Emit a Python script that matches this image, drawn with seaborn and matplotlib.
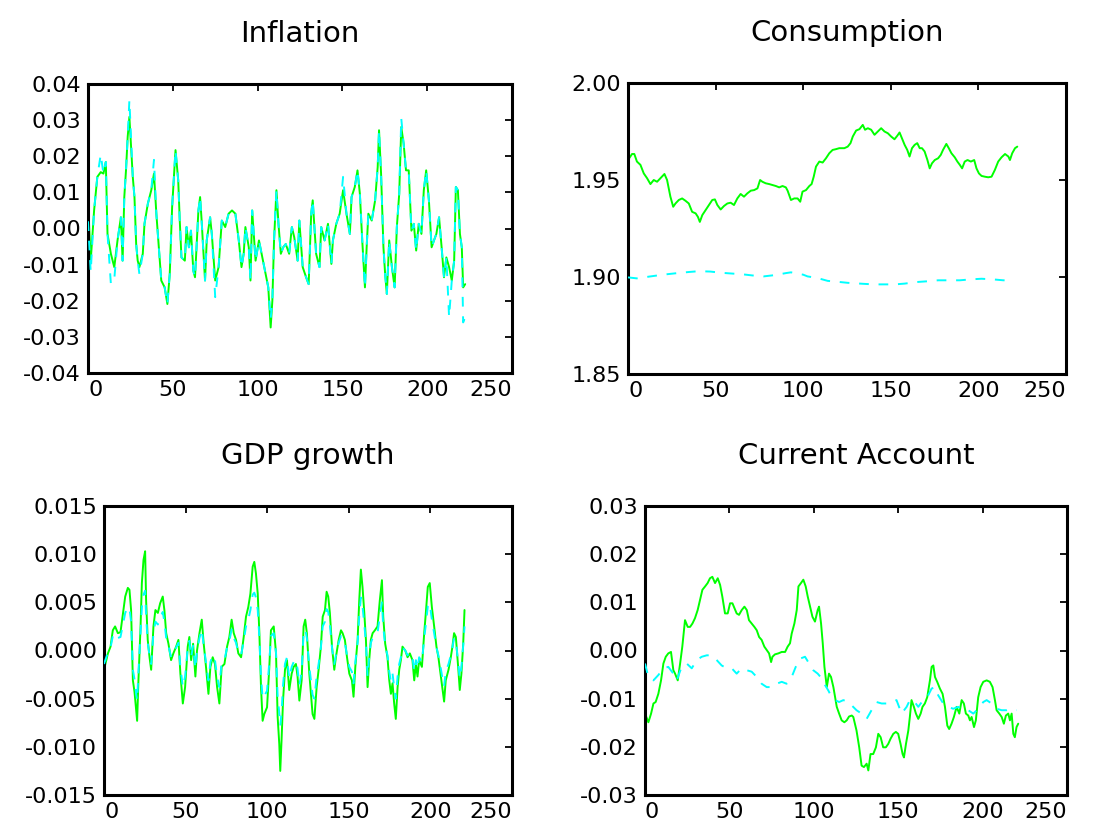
import numpy as np
import pandas as pd
import matplotlib
matplotlib.use("Agg")
import matplotlib.pyplot as plt
import seaborn as sns

# ---------------- data ----------------
# Inflation
infl_x = [0, 1.6, 3.6, 5.5, 7.5, 9.1, 10.5, 11.5, 13.5, 15.5, 17.4, 19.4, 20.4, 21.4, 22.4, 23.4, 24.4, 26.4, 27.4, 28.4,
          29.3, 30.3, 32.3, 33.3, 35.3, 37.3, 38.9, 40.3, 41.3, 43.2, 45.2, 46.8, 48.2, 49.6, 50.8, 51.6, 53.2, 54.1, 55.1, 57.1,
          58.1, 59.5, 60.7, 62.1, 63.1, 65.1, 66.1, 67.0, 69.0, 70.0, 72.0, 73.0, 75.0, 77.0, 78.9, 80.9, 82.9, 84.9, 86.9, 88.9,
          90.5, 91.8, 92.8, 94.8, 95.8, 96.8, 98.8, 100.8, 102.8, 104.7, 106.3, 107.7, 108.7, 109.7, 111.1, 112.3, 113.7, 115.1, 116.6, 118.6,
          120.2, 121.6, 123.6, 124.6, 126.6, 128.6, 130.1,
          131.6, 132.5, 133.5, 134.5, 136.5, 137.5, 139.5, 141.5, 143.5, 144.4, 146.4, 148.4, 150.4, 152.4, 154.4, 155.4, 157.3, 158.9, 160.3, 161.7,
          163.3, 164.3, 165.3, 167.3, 169.3, 170.8, 171.6, 172.8, 174.2, 175.2, 176.2, 177.6, 179.2, 180.8, 182.1, 183.5, 184.7, 186.1, 187.5, 189.1,
          190.7, 192.1, 193.5, 195.0, 196.6, 198.0, 199.4, 201.0, 202.6, 204.0, 205.4, 207.0, 208.5, 209.9, 211.3, 212.9, 214.5, 215.9, 216.9, 218.1,
          219.3, 220.4, 221.2, 222.4]
infl_green = [0.0078, -0.0089, 0.005, 0.0143, 0.0156, 0.0152, 0.0184, -0.0015, -0.007, -0.0107, -0.0033, 0.0031, -0.0089, 0.0087, 0.0161, 0.0254, 0.0309, 0.0143, 0.0087, -0.0043,
              -0.0089, -0.0107, -0.007, 0.0013, 0.0069, 0.0106, 0.0152, 0.0041, -0.0024, -0.0144, -0.0163, -0.0209, -0.0126, 0.0059, 0.0152, 0.0217, 0.0133, 0.0022, -0.008, -0.0089,
              0.0004, -0.0052, -0.0006, -0.0117, -0.0135, 0.005, 0.0087, 0.0022, -0.0144, -0.0033, 0.0031, -0.0015, -0.0144, -0.0107, 0.0022, 0.0004, 0.0041, 0.005, 0.0041, -0.0033,
              -0.0107, -0.007, 0.0004, -0.0052, -0.0144, 0.005, -0.0089, -0.0033, -0.008, -0.0126, -0.0163, -0.0274, -0.02, -0.0033, 0.0106, 0.0013, -0.007, -0.0052, -0.0043, -0.007,
              0.0004, -0.0024, -0.0089, 0.0022, -0.0107, -0.0135, -0.0154,
              0.0041, 0.0078, 0.0004, -0.007, -0.0107, 0.0004, -0.0033, 0.0013, -0.0098, -0.0033, 0.0013, 0.0041, 0.0106, 0.0041, -0.0015, 0.0087, 0.0115, 0.0161, 0.0096, -0.0033,
              -0.0163, -0.0052, 0.0041, 0.0022, 0.0078, 0.017, 0.0272, 0.0152, -0.0052, -0.0126, -0.0181, -0.0033, -0.0107, -0.0163, 0.0004, 0.0096, 0.0281, 0.0235, 0.0161, 0.0161,
              -0.0006, 0.0013, -0.0061, 0.0013, -0.0015, 0.0106, 0.0161, 0.0078, -0.0052, -0.0033, -0.0015, 0.0031, -0.0052, -0.0135, -0.008, -0.0107, -0.0144, -0.0089, 0.0115, 0.0106,
              -0.0015, -0.0052, -0.0163, -0.0154]
infl_cyan = [0.002, -0.012, 0.005, 0.0143, 0.0205, 0.0152, 0.0184, -0.0015, -0.0154, -0.014, -0.0033, 0.0031, -0.0089, 0.0087, 0.0161, 0.0254, 0.0355, 0.0143, 0.0087, -0.0043,
             -0.0089, -0.0126, -0.007, 0.0013, 0.0069, 0.0106, 0.019, 0.0041, -0.0024, -0.0144, -0.0163, -0.0209, -0.0126, 0.0059, 0.0152, 0.0217, 0.0133, 0.0022, -0.008, -0.0089,
             0.0004, -0.0052, -0.0006, -0.0117, -0.0135, 0.005, 0.0087, 0.0022, -0.0144, -0.0033, 0.0031, -0.0015, -0.019, -0.0107, 0.0022, 0.0004, 0.0041, 0.005, 0.0041, -0.0033,
             -0.0107, -0.007, 0.0004, -0.0052, -0.0144, 0.005, -0.0089, -0.0033, -0.008, -0.0126, -0.0163, -0.025, -0.02, -0.0033, 0.0106, 0.0013, -0.007, -0.0052, -0.0043, -0.007,
             0.0004, -0.0024, -0.0089, 0.0022, -0.0107, -0.0135, -0.0154,
             0.0041, 0.0078, 0.0004, -0.007, -0.0107, 0.0004, -0.0033, 0.0013, -0.0098, -0.0033, 0.0013, 0.0041, 0.0143, 0.0041, -0.0015, 0.0087, 0.0115, 0.0161, 0.0096, -0.0033,
             -0.0163, -0.0052, 0.0041, 0.0022, 0.0078, 0.017, 0.0272, 0.0152, -0.0052, -0.0126, -0.0181, -0.0033, -0.0107, -0.0163, 0.0004, 0.0096, 0.0305, 0.0235, 0.0161, 0.0161,
             -0.0006, 0.0013, -0.0061, 0.0013, -0.0015, 0.0106, 0.0161, 0.0078, -0.0052, -0.0033, -0.0015, 0.0031, -0.0052, -0.0135, -0.008, -0.0245, -0.0144, -0.0089, 0.0115, 0.0106,
             -0.0015, -0.0052, -0.026, -0.0245]

# Consumption
cons_x = [0, 2.3, 3.6, 5.1, 7.1, 9.0, 10.9, 12.8, 14.7, 16.6, 18.5, 20.8, 22.3, 24.2, 25.8, 27.1, 29.0, 30.9, 32.8, 34.7,
          36.6, 38.6, 39.9, 41.0, 42.4, 44.3, 46.2, 48.1, 49.6, 51.0, 52.9, 54.8, 56.7, 58.6, 60.5, 62.4, 64.3, 66.2, 68.1, 70.1,
          72.0, 73.9, 75.4, 76.7, 78.6, 80.6, 82.5, 84.4, 86.3, 88.2, 90.1, 91.1, 93.0, 94.9, 96.8, 98.3, 99.6, 101.6, 103.5, 104.8,
          106.0, 107.3, 109.2, 111.1, 113.0, 114.9, 116.8, 118.7, 120.6,
          123.5, 125.4, 127.0, 128.3, 130.2, 132.1, 134.0, 135.3, 136.9, 138.8, 140.7, 142.6, 144.5, 146.4, 148.3, 150.2, 152.1, 153.7, 155.0, 156.3,
          157.9, 159.4, 160.7, 162.1, 163.6, 165.1, 166.5, 167.8, 169.3, 170.9, 172.2, 173.5, 175.1, 177.0, 178.5, 179.8, 181.7, 183.1, 184.6, 186.5,
          188.0, 189.4, 190.7, 192.2, 193.8, 195.7, 197.6, 198.9, 200.3, 201.8, 203.7, 205.6, 207.5, 209.4, 211.3, 213.2, 215.2, 217.1, 218.0, 219.3,
          220.9, 222.2]
cons_green = [1.9603, 1.9634, 1.9634, 1.9595, 1.9578, 1.9534, 1.9509, 1.9479, 1.95, 1.9491, 1.9509, 1.9531, 1.95, 1.9414, 1.9362, 1.9379, 1.9397, 1.9405, 1.9393, 1.9379,
              1.9336, 1.9328, 1.931, 1.9284, 1.9319, 1.9345, 1.9371, 1.9397, 1.94, 1.9371, 1.9348, 1.9366, 1.9379, 1.9383, 1.9371, 1.9405, 1.9428, 1.9414, 1.9431, 1.9445,
              1.9448, 1.9457, 1.95, 1.9491, 1.9483, 1.9479, 1.9474, 1.9469, 1.9462, 1.9469, 1.9462, 1.9445, 1.9397, 1.9405, 1.9405, 1.9388, 1.944, 1.9448, 1.9469, 1.9479,
              1.9517, 1.9569, 1.9595, 1.959, 1.9612, 1.9638, 1.9655, 1.9659, 1.9664,
              1.9664, 1.9672, 1.969, 1.9724, 1.9755, 1.9762, 1.9784, 1.9759, 1.9767, 1.9759, 1.9733, 1.975, 1.9767, 1.975, 1.9741, 1.9724, 1.971, 1.9728, 1.9745, 1.9716,
              1.9681, 1.9655, 1.9621, 1.9664, 1.9681, 1.969, 1.9664, 1.9664, 1.9647, 1.9603, 1.956, 1.9586, 1.9603, 1.9612, 1.9629, 1.9655, 1.9686, 1.9664, 1.9638, 1.9617,
              1.9595, 1.9578, 1.956, 1.9595, 1.9603, 1.9595, 1.9603, 1.956, 1.9534, 1.9521, 1.9517, 1.9514, 1.9517, 1.9552, 1.9595, 1.9617, 1.9634, 1.9621, 1.9603, 1.9638,
              1.9664, 1.9672]
cons_cx = [0, 5, 12.8, 20, 28.1, 35, 40.5, 47, 52.9, 59, 65.3, 71, 77.3, 84, 90.1, 93, 100, 102.5, 108, 114,
           120, 125.4, 127.3, 134, 140.1, 146, 152.5, 158, 164.6, 171, 177, 183, 189.4, 196, 201.8, 208, 214.2, 217.1]
cons_cyan = [1.8998, 1.8993, 1.9003, 1.9012, 1.902, 1.9026, 1.903, 1.9028, 1.9022, 1.9018, 1.9014, 1.9008, 1.9003, 1.901, 1.902, 1.9024, 1.9012, 1.9003, 1.8995, 1.898,
             1.8975, 1.897, 1.8969, 1.8965, 1.8962, 1.8962, 1.8962, 1.8966, 1.8974, 1.8978, 1.8983, 1.8983, 1.8983, 1.8988, 1.8991, 1.8988, 1.8983, 1.8983]

# GDP growth
gdp_x = [0, 2.4, 4.0, 5.4, 6.8, 8.5, 10.1, 11.5, 13.0, 14.6, 15.6, 16.6, 17.7, 18.7, 19.7, 20.3, 21.1, 22.4, 23.2, 24.2,
         25.2, 25.8, 26.8, 27.9, 28.9, 30.3, 31.5, 33.0, 34.4, 36.0, 37.0, 38.1, 39.5, 41.1, 42.5, 44.2, 45.6, 46.8, 48.3, 49.7,
         51.3, 52.3, 53.4, 54.6, 56.0, 57.0, 58.5, 59.9, 61.1, 62.5, 64.0, 65.2, 66.6, 68.0, 69.3, 70.7, 72.1, 73.8, 75.4, 76.8,
         78.2, 79.5, 80.9, 82.3, 84.0, 85.6, 87.0, 88.4, 89.7, 91.1, 92.1, 93.1, 94.2, 95.2, 96.2, 97.2, 98.2, 99.9, 101.3, 102.3,
         104.0, 105.4, 106.4, 107.4, 108.0, 108.8, 109.7, 110.9, 112.1, 113.5, 115.0, 116.2, 117.6, 118.6, 119.7, 121.1, 122.3, 123.3, 124.3, 125.8,
         126.8, 127.8,
         128.9, 130.3, 131.5, 132.9, 134.0, 135.4, 136.4, 137.4, 138.4, 139.7, 141.1, 142.1, 143.8, 145.2, 146.2, 147.6, 148.9, 150.3, 151.9, 152.9,
         154.0, 155.4, 156.4, 157.4, 158.4, 159.5, 160.5, 161.5, 162.5, 163.5, 164.6, 166.0, 167.6, 169.0, 170.3, 171.1, 172.3, 173.7, 174.8, 175.8,
         176.8, 177.8, 178.8, 179.9, 180.9, 181.9, 182.9, 184.6, 186.0, 187.4, 189.0, 190.1, 191.1, 192.1, 193.1, 194.8, 196.2, 197.2, 198.4, 199.6,
         200.9, 202.3, 203.7, 204.9, 206.4, 207.4, 208.4, 209.4, 211.1, 212.5, 213.5, 214.5, 215.6, 217.0, 218.0, 219.0, 220.1, 220.9]
gdp_green = [-0.002, -0.0003, 0.0004, 0.0021, 0.0025, 0.0018, 0.0019, 0.0037, 0.0056, 0.0065, 0.0063, 0.0042, -0.0031, -0.0043, -0.0062, -0.0073, -0.0031, 0.0025, 0.007, 0.0094,
             0.0103, 0.0052, 0.0011, -0.0007, -0.002, 0.0025, 0.0042, 0.0039, 0.0049, 0.0056, 0.0042, 0.0018, 0.0007, -0.001, -0.0003, 0.0004, 0.0011, -0.0024, -0.0055, -0.0038,
             0.0004, 0.0014, -0.001, 0.0007, -0.0027, 0.0, 0.0018, 0.0032, 0.0007, -0.0017, -0.0045, -0.0017, -0.0007, -0.0014, -0.0038, -0.0055, -0.0017, -0.0014, 0.0004, 0.0014,
             0.0032, 0.0018, 0.0011, -0.0003, -0.0007, 0.0014, 0.0035, 0.0045, 0.0059, 0.0087, 0.0092, 0.008, 0.0059, 0.0018, -0.0038, -0.0073, -0.0066, -0.0059, -0.0017, 0.0021,
             0.0025, -0.0003, -0.0069, -0.0097, -0.0125, -0.0093, -0.0052, -0.002, -0.001, -0.0041, -0.0024, -0.0017, -0.0014, -0.0027, -0.0052, -0.0031, 0.0025, 0.0032, 0.0018, -0.0024,
             -0.0045, -0.0066,
             -0.0071, -0.0038, -0.002, 0.0004, 0.0035, 0.0042, 0.0061, 0.0056, 0.0039, 0.0004, -0.002, -0.0007, 0.0011, 0.0021, 0.0018, 0.0011, -0.0007, -0.0024, -0.0031, -0.0048,
             -0.0017, 0.0011, 0.0052, 0.0084, 0.0066, 0.0039, 0.0011, -0.0038, -0.001, 0.0011, 0.0018, 0.0021, 0.0025, 0.0052, 0.0073, 0.0035, 0.0007, -0.0007, -0.0031, -0.0045,
             -0.0034, -0.0055, -0.0071, -0.0038, -0.002, -0.001, 0.0004, 0.0, -0.0007, -0.0003, -0.001, -0.0031, -0.0014, -0.0027, -0.001, -0.0017, 0.0018, 0.0039, 0.0066, 0.007,
             0.0045, 0.0025, 0.0004, -0.0007, -0.0027, -0.0041, -0.0053, -0.0031, -0.002, -0.0007, 0.0004, 0.0018, 0.0014, -0.0017, -0.0041, -0.0024, 0.0007, 0.0042]
gdp_cyan = [-0.0014, -0.0002, 0.0003, 0.0015, 0.0018, 0.0013, 0.0014, 0.0026, 0.0039, 0.0045, 0.0044, 0.0030, -0.0020, -0.0030, -0.0045, -0.0052, -0.0022, 0.0018, 0.0045, 0.0058,
            0.0062, 0.0036, 0.0008, -0.0005, -0.0014, 0.0018, 0.0030, 0.0027, 0.0034, 0.0040, 0.0030, 0.0013, 0.0005, -0.0007, -0.0002, 0.0003, 0.0008, -0.0017, -0.0038, -0.0027,
            0.0003, 0.0010, -0.0007, 0.0005, -0.0019, 0.0, 0.0013, 0.0022, 0.0005, -0.0012, -0.0031, -0.0012, -0.0005, -0.0010, -0.0027, -0.0038, -0.0012, -0.0010, 0.0003, 0.0010,
            0.0022, 0.0013, 0.0008, -0.0002, -0.0005, 0.0010, 0.0025, 0.0032, 0.0042, 0.0058, 0.0060, 0.0055, 0.0042, 0.0013, -0.0027, -0.0050, -0.0047, -0.0042, -0.0012, 0.0015,
            0.0018, -0.0002, -0.0048, -0.0065, -0.0078, -0.0065, -0.0036, -0.0014, -0.0007, -0.0029, -0.0017, -0.0012, -0.0010, -0.0019, -0.0036, -0.0022, 0.0018, 0.0022, 0.0013, -0.0017,
            -0.0031, -0.0046,
            -0.0050, -0.0027, -0.0014, 0.0003, 0.0025, 0.0030, 0.0043, 0.0040, 0.0027, 0.0003, -0.0014, -0.0005, 0.0008, 0.0015, 0.0013, 0.0008, -0.0005, -0.0017, -0.0022, -0.0034,
            -0.0012, 0.0008, 0.0036, 0.0055, 0.0046, 0.0027, 0.0008, -0.0027, -0.0007, 0.0008, 0.0013, 0.0015, 0.0018, 0.0036, 0.0050, 0.0025, 0.0005, -0.0005, -0.0022, -0.0032,
            -0.0024, -0.0038, -0.0050, -0.0027, -0.0014, -0.0007, 0.0003, 0.0, -0.0005, -0.0002, -0.0007, -0.0022, -0.0010, -0.0019, -0.0007, -0.0012, 0.0013, 0.0027, 0.0046, 0.0049,
            0.0032, 0.0018, 0.0003, -0.0005, -0.0019, -0.0029, -0.0037, -0.0022, -0.0014, -0.0005, 0.0003, 0.0013, 0.0010, -0.0012, -0.0029, -0.0017, 0.0005, 0.0025]

# Current Account
ca_x = [0, 2.0, 3.6, 5.0, 6.3, 7.9, 9.5, 10.9, 12.3, 13.8, 15.4, 16.8, 17.8, 19.4, 20.8, 22.1, 23.7, 25.3, 26.7, 28.1,
        29.6, 31.2, 32.6, 34.0, 35.6, 37.1, 38.5, 39.9, 41.5, 43.1, 44.5, 45.8, 47.4, 49.0, 50.4, 51.8, 53.0, 54.3, 55.7, 57.3,
        58.9, 60.3, 61.6, 63.2, 64.8, 66.2, 67.6, 69.1, 70.7, 72.1, 73.5, 74.7, 75.5, 77.0, 79.0, 81.0, 83.0, 84.5, 85.9, 86.9,
        88.5, 89.9, 90.9, 92.4, 93.8, 95.2, 96.4, 97.8, 99.2, 100.7, 102.3, 103.1, 104.3, 105.3, 106.3, 107.7, 109.0, 110.2, 111.6, 112.6,
        113.6, 115.0, 116.5, 118.1, 119.5, 120.9, 122.5,
        123.4, 125.3, 126.9, 128.3, 129.7, 131.3, 132.3, 133.6, 135.2, 136.8, 138.2, 139.6, 141.1, 142.7, 144.1, 145.5, 147.1, 148.6, 150.0, 151.4,
        152.6, 153.4, 154.6, 156.0, 156.9, 157.9, 159.3, 160.5, 161.9, 163.3, 164.4, 165.8, 167.2, 168.8, 169.8, 170.8, 171.8, 173.1, 174.7, 176.3,
        177.7, 179.1, 180.2, 181.6, 183.0, 184.6, 186.2, 187.6, 188.9, 190.1, 191.5, 192.5, 193.5, 194.9, 196.0, 197.4, 198.8, 200.4, 202.4, 204.3,
        205.9, 207.3, 208.3, 209.9, 211.3, 212.6, 213.8, 215.2, 216.2, 217.2, 218.2, 219.1, 220.1, 221.1]
ca_green = [-0.0131, -0.0149, -0.0131, -0.011, -0.0107, -0.009, -0.0062, -0.0027, -0.0013, -0.0006, -0.0003, -0.0041, -0.0048, -0.0062, -0.0027, 0.0008, 0.0063, 0.0049, 0.0049, 0.0056,
            0.0067, 0.0084, 0.0105, 0.0126, 0.0133, 0.014, 0.015, 0.0153, 0.014, 0.015, 0.0136, 0.0112, 0.0077, 0.0077, 0.0098, 0.0098, 0.0088, 0.0077, 0.0074, 0.0084,
            0.0091, 0.0084, 0.0063, 0.0056, 0.0049, 0.0042, 0.0028, 0.0022, 0.0008, 0.0001, -0.0006, -0.0024, -0.0013, -0.0008, -0.0006, -0.0003, -0.0003, 0.0008, 0.0015, 0.0035,
            0.0056, 0.0084, 0.0133, 0.014, 0.0147, 0.0133, 0.0112, 0.0091, 0.007, 0.006, 0.0084, 0.0091, 0.0056, 0.0015, -0.0034, -0.0076, -0.0048, -0.0055, -0.0076, -0.0097,
            -0.0117, -0.0131, -0.0145, -0.0149, -0.0145, -0.0137, -0.0135,
            -0.0138, -0.0166, -0.0201, -0.0239, -0.0242, -0.0235, -0.0249, -0.0215, -0.0215, -0.0201, -0.0173, -0.018, -0.0201, -0.0201, -0.0194, -0.0183, -0.0173, -0.0169, -0.0173, -0.0194,
            -0.0215, -0.0222, -0.0194, -0.0166, -0.0138, -0.0103, -0.0117, -0.0131, -0.0142, -0.0131, -0.0117, -0.011, -0.0097, -0.0062, -0.0034, -0.0031, -0.0055, -0.0065, -0.0079, -0.009,
            -0.0117, -0.0156, -0.0163, -0.0152, -0.0138, -0.0117, -0.0131, -0.0103, -0.011, -0.0131, -0.0135, -0.0145, -0.0138, -0.0159, -0.0145, -0.0097, -0.0076, -0.0065, -0.0062, -0.0065,
            -0.0076, -0.0103, -0.0124, -0.0131, -0.0138, -0.0152, -0.0135, -0.0131, -0.0145, -0.0131, -0.0173, -0.018, -0.0159, -0.0152]
ca_cx = [0, 2.0, 5.0, 7.9, 10.9, 13.8, 16.8, 18.8, 21.7, 24.7, 27.7, 30.6, 33.6, 36.6, 39.5, 42.5, 45.4, 48.4, 51.4, 54.3,
         57.3, 60.3, 63.2, 66.2, 69.1, 72.1, 75.1, 78.0, 81.0, 83.9, 86.9, 89.3, 91.8, 94.8, 97.2, 99.7, 102.3, 104.7, 106.7, 108.6,
         110.6, 112.6, 115.0, 117.5, 120.5, 125.3, 128.3, 131.3, 134.2, 137.2, 140.2, 143.1, 146.1, 149.0, 152.0, 155.0, 156.9, 158.9, 161.9, 164.8,
         167.2, 169.8, 171.8, 173.7, 176.7, 179.7, 182.6, 185.6, 188.5, 191.5, 194.5, 197.4, 200.4, 202.4, 205.3, 208.3, 211.3, 214.2, 217.2, 220.1]
ca_cyan = [-0.0027, -0.0055, -0.0062, -0.0051, -0.0037, -0.0034, -0.0048, -0.0062, -0.0034, -0.0027, -0.0037, -0.002, -0.0013, -0.001, -0.001, -0.002, -0.0031, -0.0037, -0.0037, -0.0048,
           -0.0037, -0.0041, -0.0044, -0.0055, -0.0069, -0.0076, -0.0076, -0.0069, -0.0065, -0.0069, -0.0055, -0.0034, -0.0017, -0.0013, -0.0027, -0.0041, -0.0048, -0.0058, -0.0072, -0.0083,
           -0.0097, -0.0103, -0.0107, -0.0103, -0.0107, -0.0124, -0.0131, -0.0142, -0.0124, -0.0107, -0.011, -0.011, -0.0107, -0.0103, -0.0131, -0.0117, -0.0103, -0.0103, -0.0117, -0.0103,
           -0.0097, -0.0079, -0.0076, -0.0093, -0.011, -0.0117, -0.0121, -0.0117, -0.0124, -0.0124, -0.0131, -0.0121, -0.0107, -0.0103, -0.011, -0.0121, -0.0124, -0.0124, -0.0121, -0.0124]

titles = ["Inflation", "Consumption", "GDP growth", "Current Account"]
x_ticks = [0, 50, 100, 150, 200, 250]
infl_yticks = [-0.04, -0.03, -0.02, -0.01, 0.00, 0.01, 0.02, 0.03, 0.04]
cons_yticks = [1.85, 1.90, 1.95, 2.00]
gdp_yticks = [-0.015, -0.010, -0.005, 0.000, 0.005, 0.010, 0.015]
ca_yticks = [-0.03, -0.02, -0.01, 0.00, 0.01, 0.02, 0.03]

# ---------------- styling ----------------
sns.set_style("white")
plt.rcParams['font.family'] = ['DejaVu Sans']
plt.rcParams['axes.unicode_minus'] = False
plt.rcParams['text.color'] = 'black'
plt.rcParams['axes.titlecolor'] = 'black'

GREEN = "#00FF00"
CYAN = "#00FFFF"

W, H = 1095, 831
fig = plt.figure(figsize=(W / 100, H / 100), dpi=100)

def px_axes(l, r, t, b):
    return fig.add_axes([l / W, 1 - b / H, (r - l) / W, (b - t) / H])

panels = [
    dict(box=(88, 512, 84, 373), gx=infl_x, gy=infl_green, cx=infl_x, cy=infl_cyan,
         yt=infl_yticks, fmt="{:.2f}"),
    dict(box=(628, 1066, 83, 374), gx=cons_x, gy=cons_green, cx=cons_cx, cy=cons_cyan,
         yt=cons_yticks, fmt="{:.2f}"),
    dict(box=(104, 512, 506, 795), gx=gdp_x, gy=gdp_green, cx=gdp_x, cy=gdp_cyan,
         yt=gdp_yticks, fmt="{:.3f}"),
    dict(box=(645, 1067, 506, 795), gx=ca_x, gy=ca_green, cx=ca_cx, cy=ca_cyan,
         yt=ca_yticks, fmt="{:.2f}"),
]

for p, title in zip(panels, titles):
    ax = px_axes(*p["box"])
    sns.lineplot(x=p["gx"], y=p["gy"], ax=ax, color=GREEN, lw=1.4,
                 estimator=None, sort=False, zorder=2)
    sns.lineplot(x=p["cx"], y=p["cy"], ax=ax, color=CYAN, lw=1.4,
                 estimator=None, sort=False, linestyle=(0, (5, 5)), zorder=3)
    ax.set_xlim(0, 250)
    ax.set_ylim(p["yt"][0], p["yt"][-1])
    ax.set_xticks(x_ticks)
    ax.set_xticklabels([str(v) for v in x_ticks])
    ax.set_yticks(p["yt"])
    ax.set_yticklabels([p["fmt"].format(v) for v in p["yt"]])
    labs = ax.get_xticklabels()
    labs[0].set_horizontalalignment("left")
    labs[-1].set_horizontalalignment("right")
    ax.tick_params(direction="in", length=5, width=1.3, top=True, right=True,
                   labelsize=16, pad=5, colors="black")
    for s in ax.spines.values():
        s.set_linewidth(2.2)
        s.set_color("black")
    ax.set_title(title, fontsize=21, pad=30, color="black")
    ax.set_xlabel("")
    ax.set_ylabel("")

fig.savefig("out.png", dpi=100, facecolor="white")
